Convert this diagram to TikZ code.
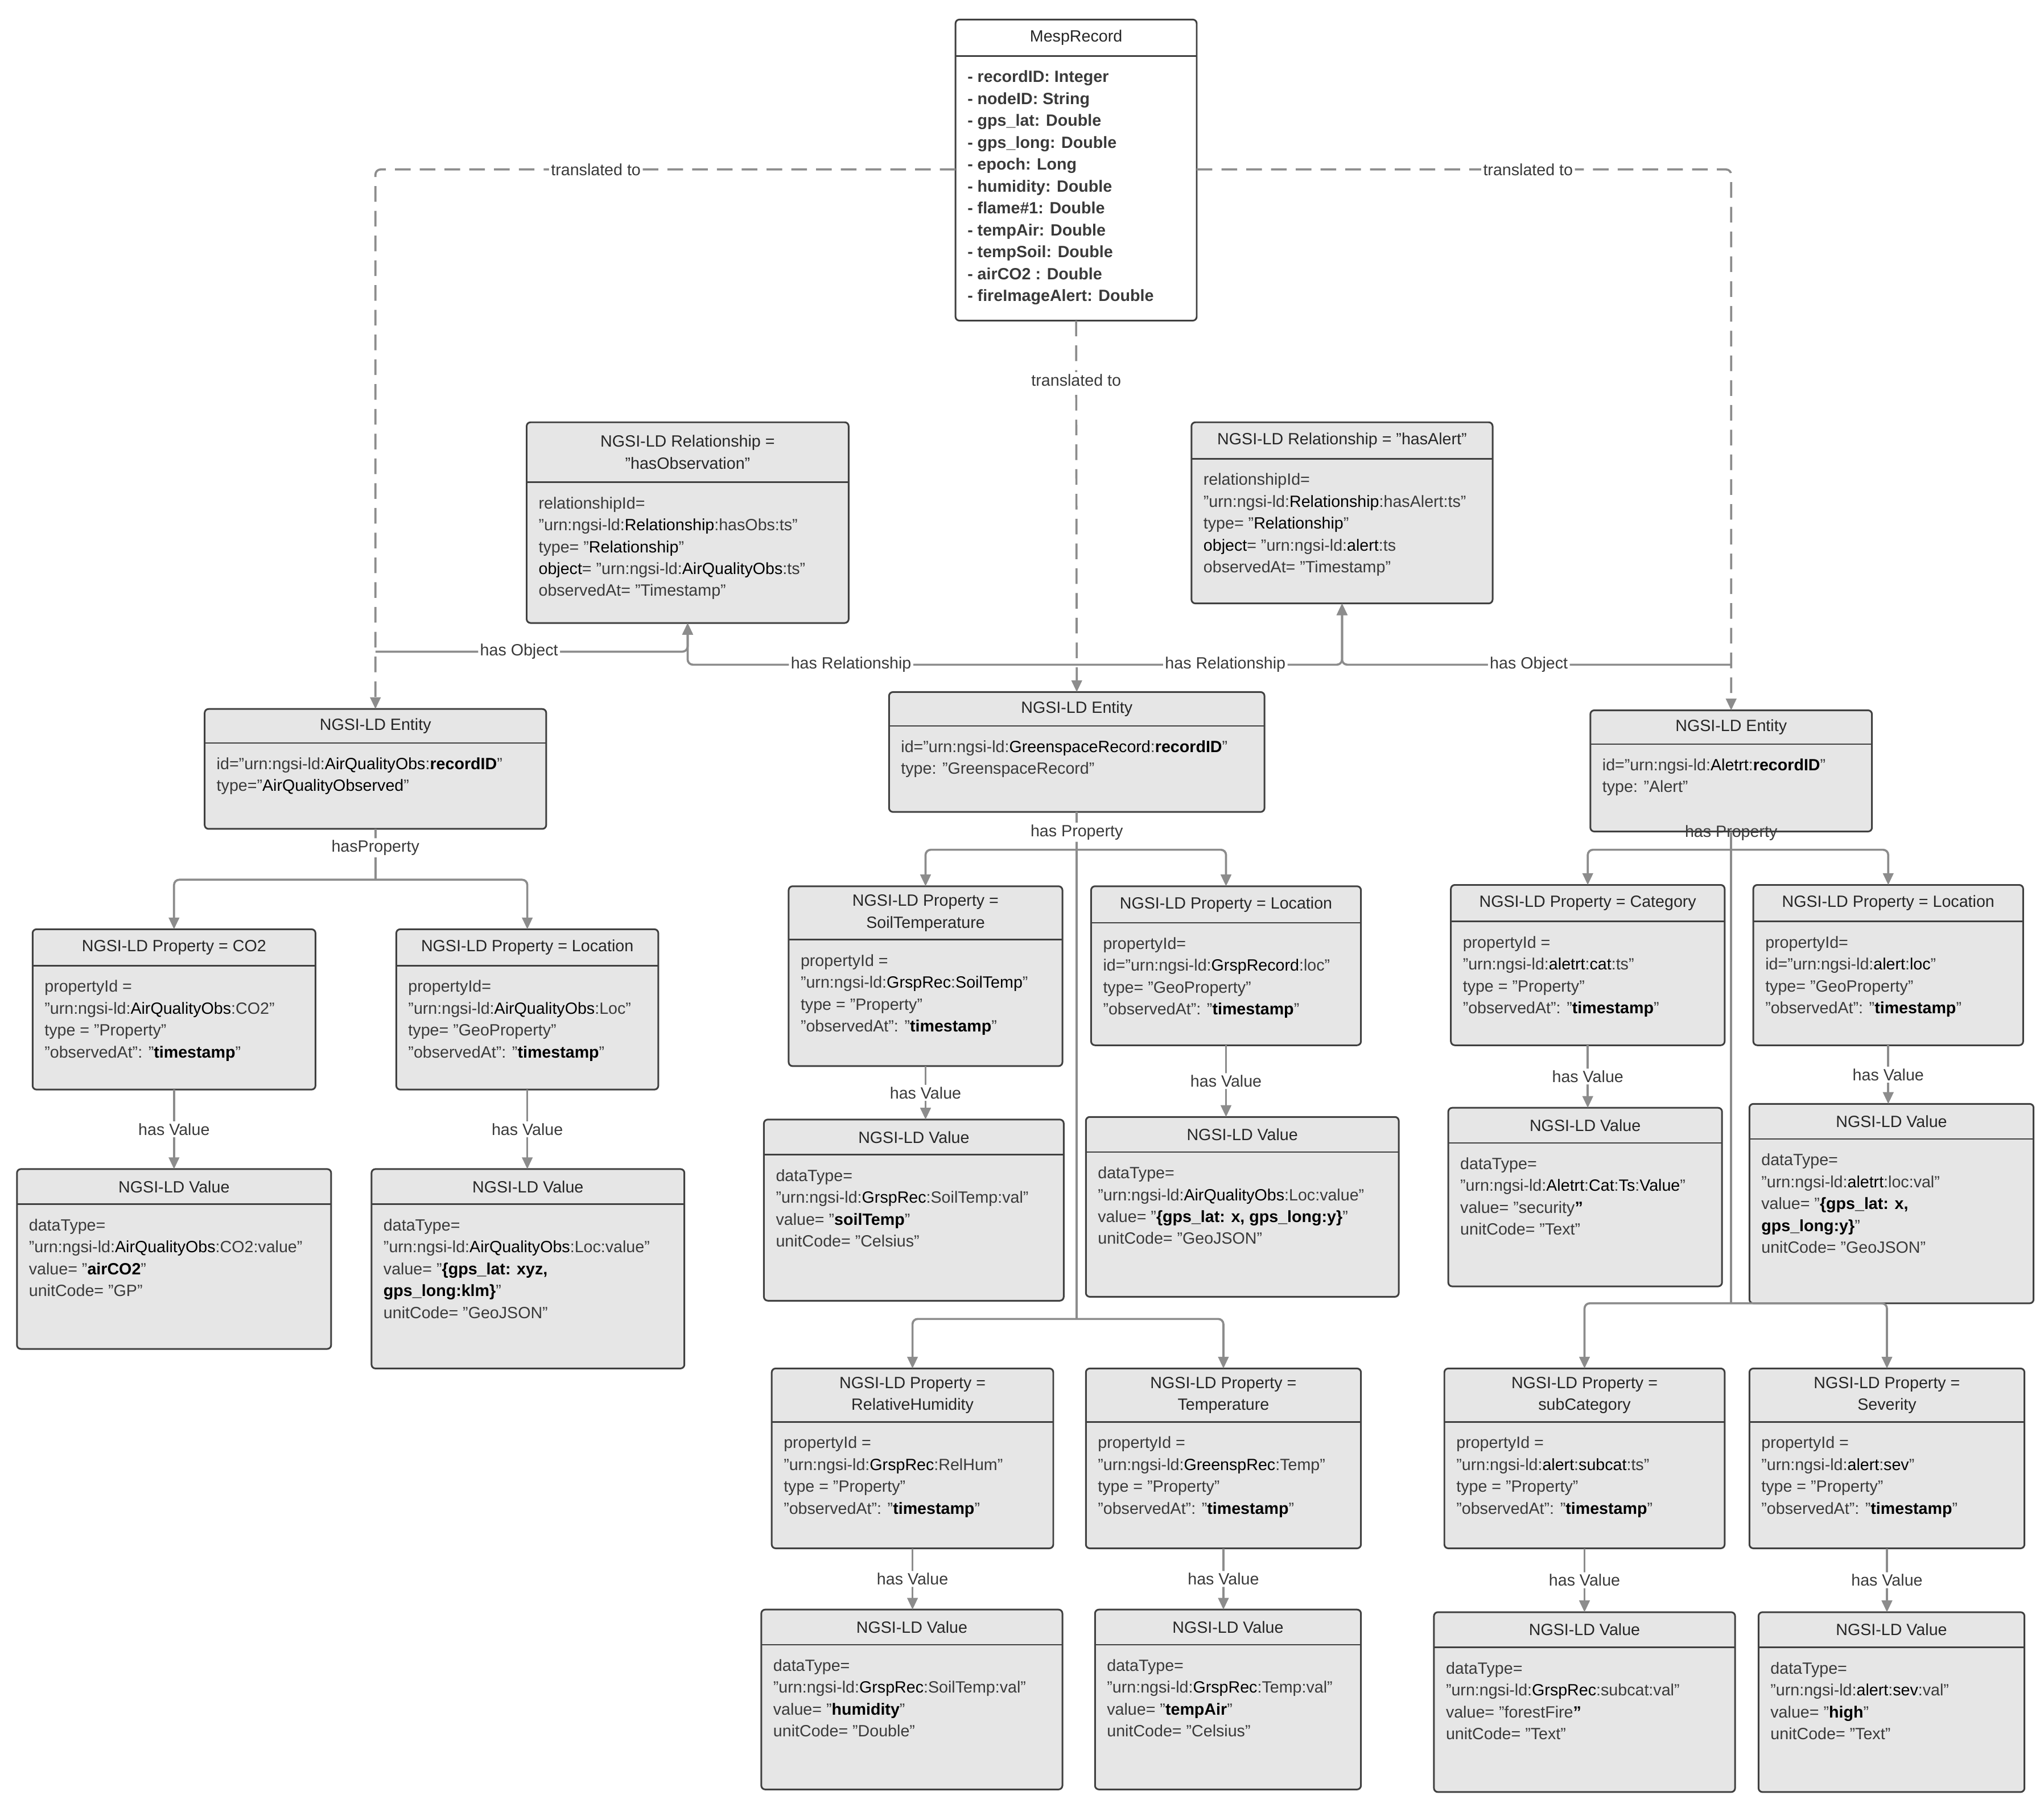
\documentclass[tikz,border=0pt]{standalone}
\usepackage{fontspec}
\setmainfont{Liberation Sans}
\usetikzlibrary{arrows.meta}
\definecolor{boxfill}{HTML}{E6E6E6}
\definecolor{edge}{HTML}{8C8C8C}
\definecolor{txt}{HTML}{3A3A3A}
\newcommand\ubox[9]{% name,x1,y1,x2,y2,hy,fill,title,body
\node[box,fill=#7,minimum width={(#4-#2)*1pt},minimum height={(#5-#3)*1pt}] (#1) at ({(#2+#4)/2},{(#3+#5)/2}) {};
\draw[boxline] (#2,#6) -- (#4,#6);
\node[ttl] at ({(#2+#4)/2},{(#3+#6)/2}) {#8};
\node[bdy] at ({#2+9},{#6+11}) {#9};
}
\newcommand\hl[1]{\textcolor{black}{#1}}
\begin{document}
\begin{tikzpicture}[x=1pt,y=-1pt,font=\fontsize{12.5}{16.8}\selectfont,
 box/.style={draw=black!75,line width=1.3pt,rounded corners=3pt,inner sep=0,outer sep=0},
 boxline/.style={draw=black!75,line width=1.1pt},
 ttl/.style={align=center,inner sep=0,text=black!85},
 bdy/.style={anchor=north west,align=left,inner sep=0,text=txt},
 conn/.style={draw=edge,line width=1.6pt,rounded corners=4pt,-{Triangle[length=9pt,width=8pt]}},
 dconn/.style={conn,dash pattern=on 12pt off 7pt},
 lbl/.style={fill=white,inner sep=1.5pt,text=txt}]
\useasboundingbox (0,0) rectangle (1568,1390);
\fill[white] (0,0) rectangle (1568,1390);

\ubox{mesp}{733}{15}{918}{246}{43}{white}{MespRecord}{\bfseries - recordID: Integer\\\bfseries - nodeID: String\\\bfseries - gps\_lat: Double\\\bfseries - gps\_long: Double\\\bfseries - epoch: Long\\\bfseries - humidity: Double\\\bfseries - flame\#1: Double\\\bfseries - tempAir: Double\\\bfseries - tempSoil: Double\\\bfseries - airCO2 : Double\\\bfseries - fireImageAlert: Double}

\ubox{hasobs}{404}{324}{651}{478}{370}{boxfill}{NGSI-LD Relationship =\\"hasObservation"}{relationshipId=\\"urn:ngsi-ld:\hl{Relationship}:hasObs:ts"\\type= "\hl{Relationship}"\\\hl{object}= "urn:ngsi-ld:\hl{AirQualityObs}:ts"\\observedAt= "Timestamp"}
\ubox{hasalert}{914}{324}{1145}{463}{352}{boxfill}{NGSI-LD Relationship = "hasAlert"}{relationshipId=\\"urn:ngsi-ld:\hl{Relationship}:hasAlert:ts"\\type= "\hl{Relationship}"\\\hl{object}= "urn:ngsi-ld:\hl{alert}:ts\\observedAt= "Timestamp"}

\ubox{entL}{157}{544}{419}{636}{570}{boxfill}{NGSI-LD Entity}{id="urn:ngsi-ld:\hl{AirQualityObs}:\textbf{\hl{recordID}}"\\type="\hl{AirQualityObserved}"}
\ubox{entM}{682}{531}{970}{623}{557}{boxfill}{NGSI-LD Entity}{id="urn:ngsi-ld:\hl{GreenspaceRecord}:\textbf{\hl{recordID}}"\\type: "GreenspaceRecord"}
\ubox{entR}{1220}{545}{1436}{638}{571}{boxfill}{NGSI-LD Entity}{id="urn:ngsi-ld:\hl{Aletrt}:\textbf{\hl{recordID}}"\\type: "Alert"}

\ubox{co2}{25}{713}{242}{836}{741}{boxfill}{NGSI-LD Property = CO2}{propertyId =\\"urn:ngsi-ld:\hl{AirQualityObs}:CO2"\\type = "Property"\\"observedAt": "\textbf{\hl{timestamp}}"}
\ubox{locL}{304}{713}{505}{836}{741}{boxfill}{NGSI-LD Property = Location}{propertyId=\\"urn:ngsi-ld:\hl{AirQualityObs}:Loc"\\type= "GeoProperty"\\"observedAt": "\textbf{\hl{timestamp}}"}
\ubox{vco2}{13}{897}{254}{1035}{924}{boxfill}{NGSI-LD Value}{dataType=\\"urn:ngsi-ld:\hl{AirQualityObs}:CO2:value"\\value= "\textbf{\hl{airCO2}}"\\unitCode= "GP"}
\ubox{vlocL}{285}{897}{525}{1050}{924}{boxfill}{NGSI-LD Value}{dataType=\\"urn:ngsi-ld:\hl{AirQualityObs}:Loc:value"\\value= "\textbf{\hl{\{gps\_lat: xyz,}}\\\textbf{\hl{gps\_long:klm\}}}"\\unitCode= "GeoJSON"}

\ubox{soil}{605}{680}{815}{818}{721}{boxfill}{NGSI-LD Property =\\SoilTemperature}{propertyId =\\"urn:ngsi-ld:\hl{GrspRec}:\hl{SoilTemp}"\\type = "Property"\\"observedAt": "\textbf{\hl{timestamp}}"}
\ubox{locM}{837}{680}{1044}{802}{708}{boxfill}{NGSI-LD Property = Location}{propertyId=\\id="urn:ngsi-ld:\hl{GrspRecord}:loc"\\type= "GeoProperty"\\"observedAt": "\textbf{\hl{timestamp}}"}
\ubox{vsoil}{586}{859}{816}{998}{886}{boxfill}{NGSI-LD Value}{dataType=\\"urn:ngsi-ld:\hl{GrspRec}:SoilTemp:val"\\value= "\textbf{\hl{soilTemp}}"\\unitCode= "Celsius"}
\ubox{vlocM}{833}{857}{1073}{995}{884}{boxfill}{NGSI-LD Value}{dataType=\\"urn:ngsi-ld:\hl{AirQualityObs}:Loc:value"\\value= "\textbf{\hl{\{gps\_lat: x, gps\_long:y\}}}"\\unitCode= "GeoJSON"}

\ubox{cat}{1113}{679}{1323}{802}{707}{boxfill}{NGSI-LD Property = Category}{propertyId =\\"urn:ngsi-ld:\hl{aletrt}:\hl{cat}:ts"\\type = "Property"\\"observedAt": "\textbf{\hl{timestamp}}"}
\ubox{locR}{1345}{679}{1552}{802}{707}{boxfill}{NGSI-LD Property = Location}{propertyId=\\id="urn:ngsi-ld:\hl{alert}:\hl{loc}"\\type= "GeoProperty"\\"observedAt": "\textbf{\hl{timestamp}}"}
\ubox{vcat}{1111}{850}{1321}{987}{877}{boxfill}{NGSI-LD Value}{dataType=\\"urn:ngsi-ld:\hl{Aletrt}:\hl{Cat}:\hl{Ts}:\hl{Value}"\\value= "security\textbf{\hl{"}}\\unitCode= "Text"}
\ubox{vlocR}{1342}{847}{1560}{1000}{874}{boxfill}{NGSI-LD Value}{dataType=\\"urn:ngsi-ld:\hl{aletrt}:loc:val"\\value= "\textbf{\hl{\{gps\_lat: x,}}\\\textbf{\hl{gps\_long:y\}}}"\\unitCode= "GeoJSON"}

\ubox{hum}{592}{1050}{808}{1188}{1091}{boxfill}{NGSI-LD Property =\\RelativeHumidity}{propertyId =\\"urn:ngsi-ld:\hl{GrspRec}:RelHum"\\type = "Property"\\"observedAt": "\textbf{\hl{timestamp}}"}
\ubox{temp}{833}{1050}{1044}{1188}{1091}{boxfill}{NGSI-LD Property =\\Temperature}{propertyId =\\"urn:ngsi-ld:\hl{GreenspRec}:Temp"\\type = "Property"\\"observedAt": "\textbf{\hl{timestamp}}"}
\ubox{subcat}{1108}{1050}{1323}{1188}{1091}{boxfill}{NGSI-LD Property =\\subCategory}{propertyId =\\"urn:ngsi-ld:\hl{alert}:\hl{subcat}:ts"\\type = "Property"\\"observedAt": "\textbf{\hl{timestamp}}"}
\ubox{sev}{1342}{1050}{1553}{1188}{1091}{boxfill}{NGSI-LD Property =\\Severity}{propertyId =\\"urn:ngsi-ld:\hl{alert}:\hl{sev}"\\type = "Property"\\"observedAt": "\textbf{\hl{timestamp}}"}

\ubox{vhum}{584}{1235}{815}{1373}{1262}{boxfill}{NGSI-LD Value}{dataType=\\"urn:ngsi-ld:\hl{GrspRec}:SoilTemp:val"\\value= "\textbf{\hl{humidity}}"\\unitCode= "Double"}
\ubox{vtemp}{840}{1235}{1044}{1373}{1262}{boxfill}{NGSI-LD Value}{dataType=\\"urn:ngsi-ld:\hl{GrspRec}:Temp:val"\\value= "\textbf{\hl{tempAir}}"\\unitCode= "Celsius"}
\ubox{vsubcat}{1100}{1237}{1331}{1375}{1264}{boxfill}{NGSI-LD Value}{dataType=\\"urn:ngsi-ld:\hl{GrspRec}:subcat:val"\\value= "forestFire\textbf{\hl{"}}\\unitCode= "Text"}
\ubox{vsev}{1349}{1237}{1553}{1375}{1264}{boxfill}{NGSI-LD Value}{dataType=\\"urn:ngsi-ld:\hl{alert}:\hl{sev}:val"\\value= "\textbf{\hl{high}}"\\unitCode= "Text"}

% translated to
\draw[dconn] (mesp.west |- 0,130) -| node[lbl,pos=0.31]{translated to} (entL.north);
\draw[dconn] (mesp.east |- 0,130) -| node[lbl,pos=0.31]{translated to} (entR.north);
\draw[dconn] (mesp.south) -- node[lbl,pos=0.16]{translated to} (entM.north);

% relationships
\draw[conn] (288,500) -| node[lbl,pos=0.23]{has Object} (hasobs.south);
\draw[conn] (826,510) -| node[lbl,pos=0.29]{has Relationship} (hasobs.south);
\draw[conn] (826,510) -| node[lbl,pos=0.28]{has Relationship} (hasalert.south);
\draw[conn] (1328,510) -| node[lbl,pos=0.26]{has Object} (hasalert.south);

% properties left
\draw[conn,-] (entL.south) -- node[lbl,pos=0.37]{hasProperty} (288,675);
\draw[conn] (288,675) -| (co2.north);
\draw[conn] (288,675) -| (locL.north);
% middle
\draw[conn,-] (entM.south) -- node[lbl,pos=0.04]{has Property} (826,1012);
\draw[conn] (826,652) -| (soil.north);
\draw[conn] (826,652) -| (locM.north);
\draw[conn] (826,1012) -| (hum.north);
\draw[conn] (826,1012) -| (temp.north);
% right
\draw[conn,-] (entR.south) -- (1328,1000);
\node[lbl,fill=none] at (1328,639) {has Property};
\draw[conn] (1328,652) -| (cat.north);
\draw[conn] (1328,652) -| (locR.north);
\draw[conn] (1328,1000) -| (subcat.north);
\draw[conn] (1328,1000) -| (sev.north);

% has Value
\foreach \p/\v in {co2/vco2,locL/vlocL,soil/vsoil,locM/vlocM,cat/vcat,locR/vlocR,hum/vhum,temp/vtemp,subcat/vsubcat,sev/vsev}
  \draw[conn] (\p.south) -- node[lbl]{has Value} (\p.south |- \v.north);
\end{tikzpicture}
\end{document}
